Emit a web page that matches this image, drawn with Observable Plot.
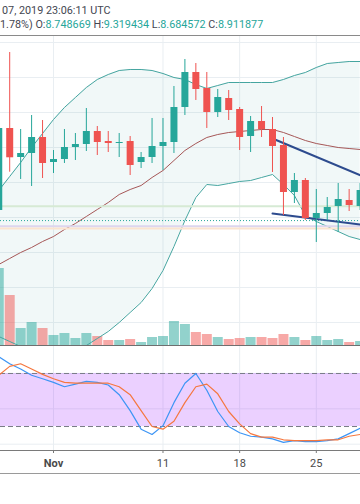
<!DOCTYPE html>
<html><head><meta charset="utf-8">
<script src="https://cdn.jsdelivr.net/npm/d3@7"></script>
<script src="https://cdn.jsdelivr.net/npm/@observablehq/plot@0.6"></script>
<style>
html,body{margin:0;padding:0;background:#fff;}
#chart{position:relative;width:360px;height:504px;overflow:hidden;background:#fff;font-family:Roboto,"Noto Sans",sans-serif;}
.layer{position:absolute;left:0;}
.layer svg{display:block;overflow:hidden;}
.sep{position:absolute;left:0;width:360px;}
</style></head><body>
<div id="chart"></div>
<script>
// ---------- data ----------
const dates = ["2019-10-27","2019-10-28","2019-10-29","2019-10-30","2019-10-31","2019-11-01","2019-11-02","2019-11-03","2019-11-04","2019-11-05","2019-11-06","2019-11-07","2019-11-08","2019-11-09","2019-11-10","2019-11-11","2019-11-12","2019-11-13","2019-11-14","2019-11-15","2019-11-16","2019-11-17","2019-11-18","2019-11-19","2019-11-20","2019-11-21","2019-11-22","2019-11-23","2019-11-24","2019-11-25","2019-11-26","2019-11-27","2019-11-28","2019-11-29"];
const open  = [9.2,11.543,10.714,10.829,11.286,10.571,10.657,11.0,11.086,11.457,11.171,11.114,11.171,10.571,10.714,11.029,11.143,12.143,13.143,12.686,12.0,12.4,12.086,11.314,11.743,11.514,11.057,9.714,10.057,8.971,9.114,9.314,9.486,9.314];
const high  = [11.6,13.714,11.514,11.914,11.771,10.914,11.514,11.4,12.114,11.6,11.457,11.4,11.314,10.857,11.829,11.829,12.743,13.514,13.4,13.143,12.657,12.629,12.143,11.886,12.171,11.857,11.286,10.257,10.114,9.8,9.571,9.971,9.8,9.971];
const low   = [9.171,10.294,10.086,9.886,10.114,10.257,10.543,10.629,10.886,10.771,10.857,10.714,10.2,10.4,10.543,10.343,10.829,11.914,12.343,11.543,11.857,11.771,10.914,10.857,11.286,10.286,9.057,9.4,8.914,8.286,8.914,8.571,9.171,9.2];
const close = [11.543,10.706,10.829,11.286,10.543,10.657,11.0,11.086,11.457,11.143,11.114,11.143,10.486,10.714,11.029,11.143,12.143,13.143,12.657,12.0,12.429,12.057,11.286,11.743,11.514,11.029,9.714,10.057,8.971,9.114,9.286,9.514,9.343,9.771];
const volume = [770,500,170,230,170,100,120,70,120,90,50,50,60,30,80,90,240,210,130,110,80,60,70,80,80,70,110,80,50,90,50,60,30,40];
const bbUpper = [9.771,10.171,10.571,11.0,11.4,11.8,12.143,12.429,12.714,12.943,13.086,13.2,13.229,13.229,13.2,13.114,13.0,12.943,12.8,12.686,12.771,12.857,12.857,12.857,12.857,12.857,12.943,13.057,13.143,13.286,13.4,13.429,13.457,13.457];
const bbBasis = [7.657,7.829,8.0,8.143,8.314,8.457,8.657,8.829,9.029,9.229,9.429,9.657,9.8,9.914,10.143,10.343,10.629,10.914,11.114,11.286,11.371,11.429,11.457,11.486,11.514,11.514,11.429,11.314,11.2,11.114,11.057,11.0,10.971,10.943];
const bbLower = [5.6,5.457,5.314,5.257,5.2,5.143,5.171,5.229,5.343,5.543,5.743,6.0,6.286,6.571,6.971,7.486,8.171,8.914,9.571,9.943,9.914,9.971,10.029,10.057,10.143,10.229,9.943,9.629,9.057,8.886,8.743,8.6,8.457,8.371];
const stochK = [99,91,85,78,74,70,65,68,71,70,67,56,38,17,11,21,47,69,80,61,37,20,13,9,8,6,2,4,3,3,4,6,12,18];
const stochD = [78,88,91,85,79,74,70,69,69,69,69,65,56,38,20,17,26,47,65,68,57,37,23,12,8,8,5,4,4,4,5,5,9,11];
const ohlcLabels = ["O","H","L","C"];
const ohlcValues = [8.748669,9.319434,8.684572,8.911877];
const timeText = "07, 2019 23:06:11 UTC";
const changeText = "1.78%)";
const xTickDates = ["2019-11-01","2019-11-11","2019-11-18","2019-11-25"];
const xTickLabels = ["Nov","11","18","25"];
const priceGrid = [6,7,8,9,10,11,12,13,14];
const stochGrid = [0,40,80];
const stochBands = [20,80];
const trendHigh = [{date:"2019-11-21",price:11.257},{date:"2019-11-30",price:10.08}];
const trendLow  = [{date:"2019-11-21",price:9.114},{date:"2019-11-30",price:8.762}];

// ---------- build ----------
const parse = d3.utcParse("%Y-%m-%d");
const rows = dates.map((d,i)=>({date:parse(d),open:open[i],high:high[i],low:low[i],close:close[i],volume:volume[i],upper:bbUpper[i],basis:bbBasis[i],lower:bbLower[i],k:stochK[i],d:stochD[i],up:close[i]>=open[i]}));
const upRows = rows.filter(r=>r.up), downRows = rows.filter(r=>!r.up);
const tickDates = xTickDates.map(parse);
const tickLabel = new Map(tickDates.map((d,i)=>[+d,xTickLabels[i]]));

const UP="#26a69a", DOWN="#ef5350", GRID="#e9eef2";
const xDomain=[new Date("2019-10-27T03:50:00Z"),new Date("2019-11-29T00:53:00Z")];
const X={type:"utc",domain:xDomain,range:[0,360],axis:null};
const Yp={domain:[5.342857,14.2],range:[310,0],axis:null};
const base={width:360,height:310,margin:0,style:{background:"transparent",overflow:"hidden"}};

const chart=document.getElementById("chart");
function place(node,top){const d=document.createElement("div");d.className="layer";d.style.top=top+"px";d.appendChild(node);chart.appendChild(d);}
function sep(top,h,color){const d=document.createElement("div");d.className="sep";d.style.top=top+"px";d.style.height=h+"px";d.style.background=color;chart.appendChild(d);}

// header
const hdr=d3.create("svg").attr("width",360).attr("height",35).style("display","block")
  .style("font-family","Roboto, 'Noto Sans', sans-serif").style("font-size","10.8px");
hdr.append("text").attr("x",2).attr("y",13.5).attr("fill","#434651").text(timeText);
const t2=hdr.append("text").attr("x",0).attr("y",27.5).attr("fill","#434651");
t2.append("tspan").text(changeText+" ");
ohlcLabels.forEach((l,i)=>{t2.append("tspan").attr("fill","#434651").text(l+":");t2.append("tspan").attr("fill",UP).text(ohlcValues[i].toFixed(6)+(i<3?" ":""));});
place(hdr.node(),0);

// layer 1: grid + band fill
place(Plot.plot({...base,x:X,y:Yp,marks:[
  Plot.ruleY(priceGrid,{stroke:GRID}),
  Plot.ruleX(tickDates,{stroke:GRID}),
  Plot.areaY(rows,{x:"date",y1:"lower",y2:"upper",fill:"#198787",fillOpacity:0.06})
]}),35);

// layer 2: volume
place(Plot.plot({...base,x:X,y:{domain:[0,3100],range:[310,0],axis:null},marks:[
  Plot.ruleX(upRows,{x:"date",y1:0,y2:"volume",stroke:UP,strokeOpacity:0.5,strokeWidth:10}),
  Plot.ruleX(downRows,{x:"date",y1:0,y2:"volume",stroke:DOWN,strokeOpacity:0.5,strokeWidth:10})
]}),35);

// layer 3: bands, lines, candles
place(Plot.plot({...base,x:X,y:Yp,marks:[
  Plot.lineY(rows,{x:"date",y:"upper",stroke:"#45a5a0",strokeWidth:1}),
  Plot.lineY(rows,{x:"date",y:"lower",stroke:"#45a5a0",strokeWidth:1}),
  Plot.lineY(rows,{x:"date",y:"basis",stroke:"#a65757",strokeWidth:1}),
  Plot.ruleY([ohlcValues[1]],{stroke:"#d6ead4",strokeWidth:2}),
  Plot.ruleY([ohlcValues[0]],{stroke:"#ddd6ee",strokeWidth:2}),
  Plot.ruleY([ohlcValues[2]],{stroke:"#fbe4cf",strokeWidth:2}),
  Plot.ruleY([ohlcValues[3]],{stroke:UP,strokeWidth:1,strokeDasharray:"1,2"}),
  Plot.line(trendHigh,{x:d=>parse(d.date),y:"price",stroke:"#2d4b8e",strokeWidth:2}),
  Plot.line(trendLow,{x:d=>parse(d.date),y:"price",stroke:"#2d4b8e",strokeWidth:2}),
  Plot.ruleX(upRows,{x:"date",y1:"low",y2:"high",stroke:UP,strokeWidth:1}),
  Plot.ruleX(downRows,{x:"date",y1:"low",y2:"high",stroke:DOWN,strokeWidth:1}),
  Plot.ruleX(upRows,{x:"date",y1:"open",y2:"close",stroke:UP,strokeWidth:7}),
  Plot.ruleX(downRows,{x:"date",y1:"open",y2:"close",stroke:DOWN,strokeWidth:7})
]}),35);

// stoch RSI pane with x axis
place(Plot.plot({width:360,height:130,marginTop:0,marginBottom:25,marginLeft:0,marginRight:0,
  style:{background:"transparent",overflow:"hidden",color:"#4a4a4a",fontFamily:"Roboto, 'Noto Sans', sans-serif"},
  x:X,y:{domain:[0,100],range:[98.7,10.3],axis:null},
  marks:[
    Plot.ruleY(stochGrid,{stroke:GRID}),
    Plot.ruleX(tickDates,{stroke:GRID}),
    Plot.rect([0],{x1:()=>xDomain[0],x2:()=>xDomain[1],y1:()=>stochBands[0],y2:()=>stochBands[1],fill:"#9915ff",fillOpacity:0.2}),
    Plot.ruleY(stochBands,{stroke:"#787b86",strokeDasharray:"5,3"}),
    Plot.lineY(rows,{x:"date",y:"k",stroke:"#3d95f5",strokeWidth:1.2}),
    Plot.lineY(rows,{x:"date",y:"d",stroke:"#f5773f",strokeWidth:1.2}),
    Plot.axisX({ticks:tickDates.slice(0,1),tickFormat:d=>tickLabel.get(+d),tickSize:3,tickPadding:6,fontSize:11,fontWeight:"bold",label:null,stroke:"#777"}),
    Plot.axisX({ticks:tickDates.slice(1),tickFormat:d=>tickLabel.get(+d),tickSize:3,tickPadding:6,fontSize:11,label:null,stroke:"#777"})
  ]}),345);

// pane separators / frame lines
sep(35,1,"#8a8a8a");
sep(345,1,"#6f6f6f");
sep(450,1,"#7a7a7a");
sep(473,1,"#9a9a9a");
</script>
</body></html>
